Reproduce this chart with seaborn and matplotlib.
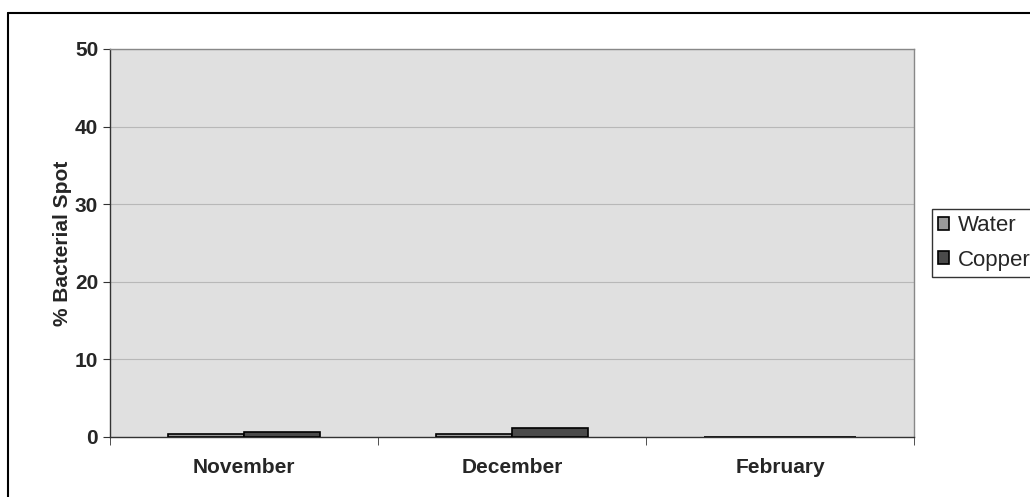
import pandas as pd
import seaborn as sns
import matplotlib.pyplot as plt
from matplotlib.lines import Line2D

months = ["November", "December", "February"]
treatments = ["Water", "Copper"]
water = [0.4, 0.35, 0.0]
copper = [0.65, 1.15, 0.0]
colors = ["#9a9a9a", "#4a4a4a"]

df = pd.DataFrame({
    "Month": months * 2,
    "Treatment": ["Water"] * 3 + ["Copper"] * 3,
    "Value": water + copper,
})

sns.set_style("white")
plt.rcParams['font.family'] = ['Liberation Sans', 'DejaVu Sans']

fig = plt.figure(figsize=(10.3, 4.97), dpi=100)
ax = fig.add_axes([110 / 1030, 1 - 437 / 497, 804 / 1030, 388 / 497])
ax.set_facecolor("#e0e0e0")

sns.barplot(data=df, x="Month", y="Value", hue="Treatment", order=months,
            hue_order=treatments, palette=colors, width=0.57,
            edgecolor="black", linewidth=1.2, ax=ax, zorder=3)

ax.set_ylim(0, 50)
ax.set_xlim(-0.5, 2.5)
ax.set_yticks(range(0, 51, 10))
ax.yaxis.grid(True, color="#b8b8b8", linewidth=0.8, zorder=0)
ax.set_axisbelow(True)
for s in ax.spines.values():
    s.set_color("#333333")
    s.set_linewidth(1.0)
ax.spines["top"].set_color("#888888")
ax.spines["right"].set_color("#888888")

ax.set_xlabel("")
ax.set_ylabel("% Bacterial Spot", fontsize=15, fontweight="bold", labelpad=2)
ax.tick_params(axis="both", labelsize=15, length=5, direction="out",
               left=True, bottom=False, color="#333333")
for lab in ax.get_xticklabels() + ax.get_yticklabels():
    lab.set_fontweight("bold")
ax.tick_params(axis="x", pad=10)
ax.set_xticks([-0.5, 0.5, 1.5, 2.5], minor=True)
ax.tick_params(axis="x", which="minor", bottom=True, length=6, color="#333333")

handles, labels = ax.get_legend_handles_labels()
leg = ax.legend(handles, labels, loc="center left", bbox_to_anchor=(1.022, 0.5),
                fontsize=16, frameon=True, fancybox=False, edgecolor="black",
                handlelength=0.5, handleheight=0.5, handletextpad=0.4,
                borderpad=0.3, labelspacing=0.6, borderaxespad=0)
leg.get_frame().set_linewidth(1.0)

# outer chart border (top and left visible)
fig.add_artist(Line2D([8 / 1030, 8 / 1030], [0, 1 - 13 / 497], color="black", linewidth=1.5))
fig.add_artist(Line2D([8 / 1030, 1], [1 - 13 / 497, 1 - 13 / 497], color="black", linewidth=1.5))

fig.savefig("out.png", dpi=100)
